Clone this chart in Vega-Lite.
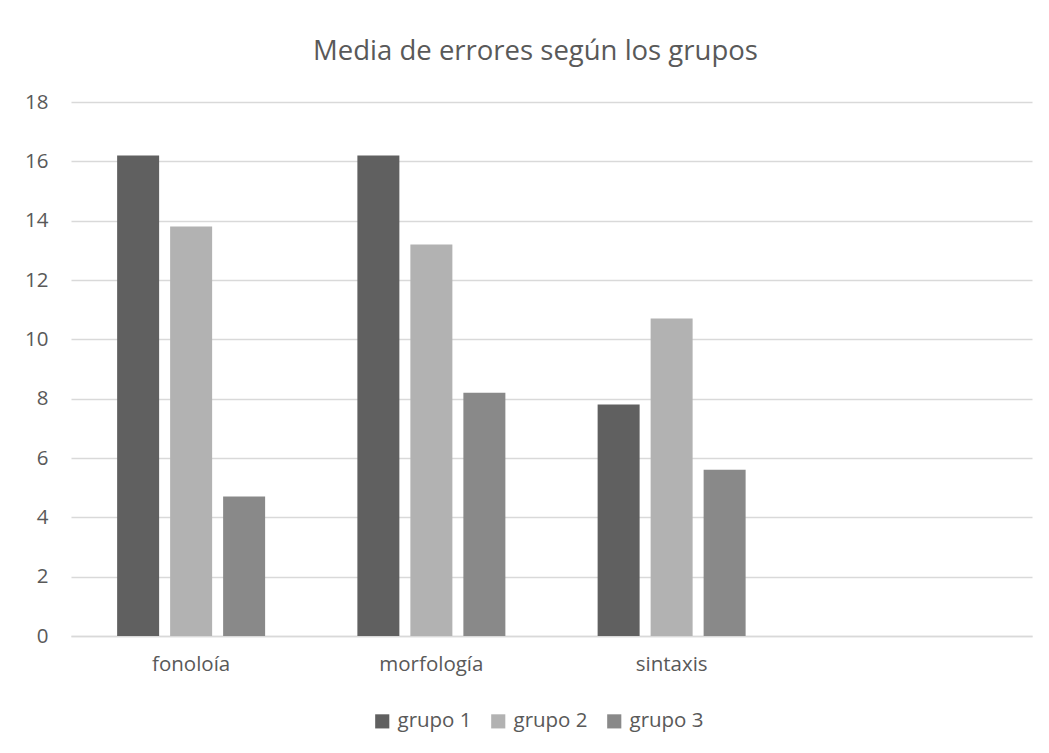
{
  "$schema": "https://vega.github.io/schema/vega-lite/v6.json",
  "autosize": "none",
  "width": 961,
  "height": 534,
  "padding": {"left": 71, "top": 102, "right": 17, "bottom": 117},
  "background": "white",
  "title": {
    "text": "Media de errores según los grupos",
    "fontSize": 27.5,
    "font": "Open Sans",
    "fontWeight": 400,
    "color": "#595959",
    "anchor": "middle",
    "dx": -16,
    "offset": 27
  },
  "data": {
    "values": [
      {"area": "fonoloía", "grupo": "grupo 1", "media": 16.2},
      {"area": "fonoloía", "grupo": "grupo 2", "media": 13.8},
      {"area": "fonoloía", "grupo": "grupo 3", "media": 4.7},
      {"area": "morfología", "grupo": "grupo 1", "media": 16.2},
      {"area": "morfología", "grupo": "grupo 2", "media": 13.2},
      {"area": "morfología", "grupo": "grupo 3", "media": 8.2},
      {"area": "sintaxis", "grupo": "grupo 1", "media": 7.8},
      {"area": "sintaxis", "grupo": "grupo 2", "media": 10.7},
      {"area": "sintaxis", "grupo": "grupo 3", "media": 5.6}
    ]
  },
  "mark": {"type": "bar"},
  "encoding": {
    "x": {
      "field": "area",
      "type": "nominal",
      "sort": null,
      "scale": {"domain": ["fonoloía", "morfología", "sintaxis", " "], "paddingInner": 0.384, "paddingOuter": 0.192},
      "axis": {
        "title": null,
        "labelAngle": 0,
        "ticks": false,
        "domainColor": "#d9d9d9",
        "domainWidth": 1.5,
        "labelFont": "Open Sans",
        "labelFontSize": 20.5,
        "labelColor": "#595959",
        "labelPadding": 18
      }
    },
    "xOffset": {
      "field": "grupo",
      "type": "nominal",
      "scale": {"paddingInner": 0.2075, "paddingOuter": 0}
    },
    "y": {
      "field": "media",
      "type": "quantitative",
      "scale": {"domain": [0, 18]},
      "axis": {
        "title": null,
        "values": [0, 2, 4, 6, 8, 10, 12, 14, 16, 18],
        "domain": false,
        "ticks": false,
        "gridColor": "#d9d9d9",
        "gridWidth": 1.3,
        "labelFont": "Open Sans",
        "labelFontSize": 20.5,
        "labelColor": "#595959",
        "labelPadding": 23
      }
    },
    "color": {
      "field": "grupo",
      "type": "nominal",
      "scale": {"domain": ["grupo 1", "grupo 2", "grupo 3"], "range": ["#606060", "#b2b2b2", "#898989"]},
      "legend": {
        "title": null,
        "orient": "none",
        "direction": "horizontal",
        "legendX": 301,
        "legendY": 609,
        "symbolType": "square",
        "symbolSize": 200,
        "symbolStrokeWidth": 0,
        "symbolOpacity": 1,
        "labelFont": "Open Sans",
        "labelFontSize": 20.5,
        "labelColor": "#595959",
        "labelOffset": 5,
        "columnPadding": 16
      }
    }
  },
  "config": {
    "view": {"stroke": null}
  }
}
